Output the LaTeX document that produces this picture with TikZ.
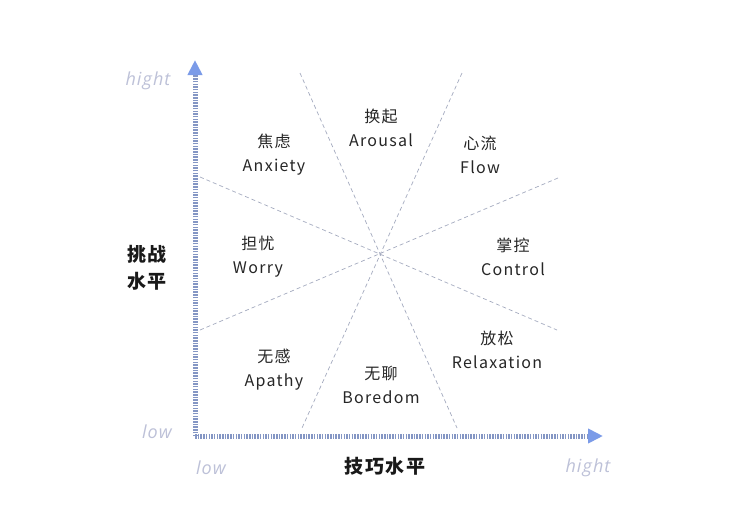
\documentclass[tikz,border=0pt]{standalone}
\usepackage{fontspec}
\setmainfont{Noto Sans CJK SC}[LetterSpace=8]
\newfontfamily\axfont{Open Sans}[LetterSpace=6]
\usetikzlibrary{arrows.meta}
\definecolor{axisblue}{HTML}{8496C4}
\definecolor{tipblue}{HTML}{7B9BE8}
\definecolor{guidegray}{HTML}{A4AABF}
\definecolor{endgray}{HTML}{BDC1D8}

\begin{document}
\begin{tikzpicture}[
  x=1pt, y=-1pt,
  axis/.style={draw=axisblue, line width=5pt, dash pattern=on 1.5pt off 1.2pt,
    -{Triangle[length=15pt, width=14pt, color=tipblue, fill=tipblue]}},
  guide/.style={draw=guidegray, line width=0.7pt, dash pattern=on 4pt off 3pt},
  zone/.style={align=center, font=\fontsize{16}{24}\selectfont, text=black!85},
  endlabel/.style={font=\axfont\itshape\fontsize{18}{20}\selectfont, text=endgray},
  axtitle/.style={align=center, font=\bfseries\fontsize{19}{27}\selectfont, text=black!90},
]
  \useasboundingbox (0,0) rectangle (736,520);
  \fill[white] (0,0) rectangle (736,520);

  % axes
  \coordinate (origin) at (195,436);
  \coordinate (ytop) at (195,60);
  \coordinate (xend) at (603,436);
  \draw[axis] (origin) -- (ytop);
  \draw[axis] (origin) -- (xend);

  % guide lines through the centre
  \coordinate (c1a) at (300,73);  \coordinate (c1b) at (457,428);
  \coordinate (c2a) at (462,73);  \coordinate (c2b) at (302,428);
  \coordinate (c3a) at (200,177); \coordinate (c3b) at (557,330);
  \coordinate (c4a) at (200,330); \coordinate (c4b) at (558,178);
  \draw[guide] (c1a) -- (c1b);
  \draw[guide] (c2a) -- (c2b);
  \draw[guide] (c3a) -- (c3b);
  \draw[guide] (c4a) -- (c4b);

  % zones
  \node[zone] (anxiety) at (274,155) {焦虑\\Anxiety};
  \node[zone] (arousal) at (381,128) {换起\\Arousal};
  \node[zone] (flow) at (480,155) {心流\\Flow};
  \node[zone] (worry) at (258,257) {担忧\\Worry};
  \node[zone] (control) at (513,257) {掌控\\Control};
  \node[zone] (relax) at (497,350) {放松\\Relaxation};
  \node[zone] (apathy) at (274,370) {无感\\Apathy};
  \node[zone] (boredom) at (381,385) {无聊\\Boredom};

  % axis labels
  \node[endlabel] (yhigh) at (148,81) {hight};
  \node[endlabel] (ylow) at (157,432) {low};
  \node[endlabel] (xlow) at (211,468) {low};
  \node[endlabel] (xhigh) at (588,468) {hight};
  \node[axtitle] (ytitle) at (147,268) {挑战\\水平};
  \node[axtitle] (xtitle) at (385,466) {技巧水平};
\end{tikzpicture}
\end{document}
